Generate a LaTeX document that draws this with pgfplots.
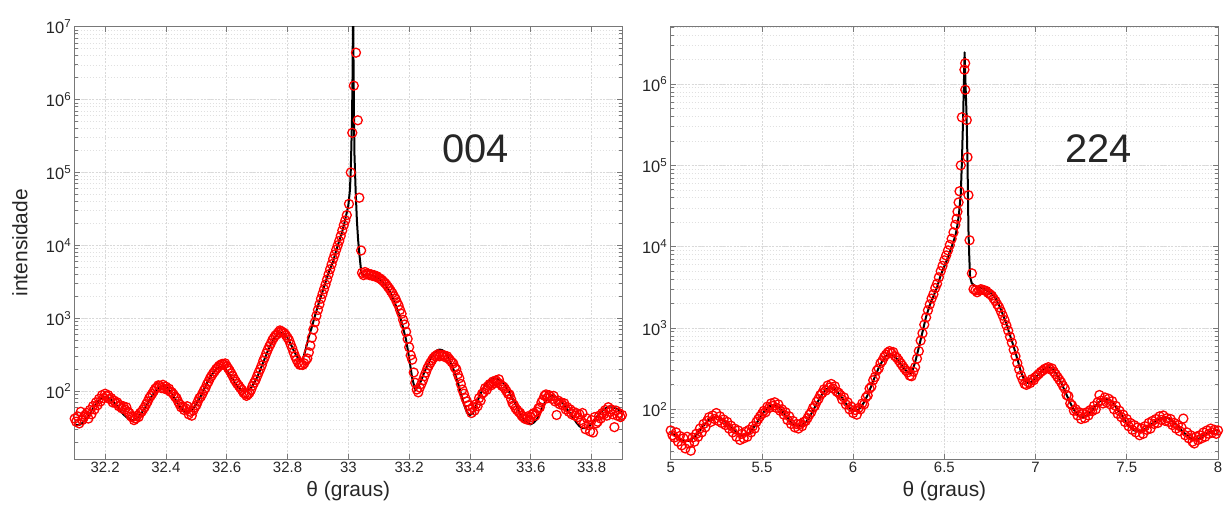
\documentclass[border=0pt]{standalone}
\usepackage{fontspec}
\setmainfont{Liberation Sans}
\usepackage{pgfplots}
\pgfplotsset{compat=1.18}
\definecolor{mtext}{RGB}{38,38,38}
\definecolor{mbox}{RGB}{120,120,120}

\pgfplotsset{
  log number format basis/.code 2 args={10\textsuperscript{\pgfmathprintnumber[assume math mode=true]{#2}}},
  every axis/.append style={
    scale only axis, width=547.3bp, height=432.3bp,
    axis line style={mbox, line width=0.8bp},
    tick style={mbox, line width=0.7bp},
    tick align=inside, major tick length=5bp, minor tick length=3bp,
    xmajorgrids, ymajorgrids, yminorgrids,
    major grid style={black!15, dash pattern=on 2bp off 1.5bp, line width=0.6bp},
    minor grid style={black!12, dash pattern=on 1.5bp off 1.5bp, line width=0.5bp},
    tick label style={font=\fontsize{15}{15}\selectfont, text=mtext},
    yticklabel style={font=\fontsize{16.5}{16.5}\selectfont},
    label style={font=\fontsize{21}{21}\selectfont, text=mtext},
    xlabel style={at={(axis description cs:0.5,-0.075)}, anchor=center},
  },
}

\begin{document}
\begin{tikzpicture}
\useasboundingbox (0,0) rectangle (1230bp,512bp);

% ---------------- 004 ----------------
\begin{axis}[ymode=log, at={(74.7bp,53bp)}, anchor=south west,
  xmin=32.1, xmax=33.9, ymin=11.7, ymax=1e7,
  xtick={32.2,32.4,32.6,32.8,33,33.2,33.4,33.6,33.8},
  xticklabel style={/pgf/number format/fixed, /pgf/number format/assume math mode=true},
  xlabel={θ (graus)}, ylabel={intensidade},
  ylabel style={at={(axis description cs:-0.1,0.5)}, anchor=center}]
\addplot[only marks, mark=o, mark size=4.5bp, draw=red, line width=1.3bp] coordinates {
(32.100,42)(32.105,38)(32.110,45)(32.115,36)(32.120,52)(32.125,40)(32.130,44)(32.135,47)(32.140,50)(32.145,42)
(32.150,55)(32.155,48)(32.160,62)(32.165,56)(32.170,70)(32.175,64)(32.180,78)(32.185,72)(32.190,88)(32.195,80)
(32.200,92)(32.205,85)(32.210,88)(32.215,78)(32.220,80)(32.225,70)(32.230,74)(32.235,68)(32.240,70)(32.245,62)
(32.250,64)(32.255,58)(32.260,62)(32.265,56)(32.270,60)(32.275,52)(32.280,50)(32.285,45)(32.290,44)(32.295,40)
(32.300,42)(32.305,46)(32.310,44)(32.315,50)(32.320,52)(32.325,56)(32.330,60)(32.335,66)(32.340,72)(32.345,80)
(32.350,86)(32.355,92)(32.360,100)(32.365,108)(32.370,112)(32.375,120)(32.380,118)(32.385,110)(32.390,122)(32.395,108)
(32.400,115)(32.405,104)(32.410,108)(32.415,98)(32.420,96)(32.425,90)(32.430,84)(32.435,80)(32.440,72)(32.445,66)
(32.450,60)(32.455,62)(32.460,55)(32.465,58)(32.470,62)(32.475,48)(32.480,52)(32.485,46)(32.490,54)(32.495,60)
(32.500,64)(32.505,72)(32.510,80)(32.515,84)(32.520,92)(32.525,102)(32.530,110)(32.535,124)(32.540,135)(32.545,150)
(32.550,162)(32.555,175)(32.560,186)(32.565,200)(32.570,210)(32.575,222)(32.580,230)(32.585,236)(32.590,232)(32.595,240)
(32.600,220)(32.605,205)(32.610,190)(32.615,175)(32.620,160)(32.625,145)(32.630,135)(32.635,125)(32.640,118)(32.645,110)
(32.650,104)(32.655,95)(32.660,92)(32.665,86)(32.670,90)(32.675,95)(32.680,104)(32.685,118)(32.690,130)(32.695,142)
(32.700,160)(32.705,180)(32.710,200)(32.715,225)(32.720,260)(32.725,290)(32.730,330)(32.735,370)(32.740,410)(32.745,450)
(32.750,500)(32.755,540)(32.760,580)(32.765,600)(32.770,640)(32.775,680)(32.780,660)(32.785,640)(32.790,620)(32.795,580)
(32.800,540)(32.805,500)(32.810,440)(32.815,390)(32.820,340)(32.825,300)(32.830,270)(32.835,245)(32.840,230)(32.845,232)
(32.850,228)(32.855,240)(32.860,265)(32.865,280)(32.870,340)(32.875,420)(32.880,540)(32.885,700)(32.890,880)(32.895,1080)
(32.900,1300)(32.905,1550)(32.910,1850)(32.915,2150)(32.920,2500)(32.925,2900)(32.930,3400)(32.935,4000)(32.940,4700)(32.945,5500)
(32.950,6500)(32.955,7500)(32.960,8700)(32.965,10000)(32.970,11500)(32.975,13500)(32.980,16000)(32.985,19000)(32.990,22000)(32.995,26000)
(33.002,37000)(33.008,100000)(33.013,350000)(33.018,1550000)(33.025,4400000)(33.031,520000)(33.036,45000)(33.042,8500)
(33.045,4200)(33.050,3900)(33.055,4300)(33.060,4000)(33.065,4100)(33.070,3900)(33.075,4000)(33.080,3800)(33.085,3900)(33.090,3700)
(33.095,3750)(33.100,3550)(33.105,3500)(33.110,3350)(33.115,3200)(33.120,3050)(33.125,2900)(33.130,2700)(33.135,2550)(33.140,2350)
(33.145,2200)(33.150,2000)(33.155,1850)(33.160,1650)(33.165,1500)(33.170,1300)(33.175,1150)(33.180,950)(33.185,820)(33.190,650)
(33.195,520)(33.200,400)(33.205,310)(33.210,270)(33.215,180)(33.220,130)(33.225,105)(33.230,96)(33.235,112)(33.240,125)
(33.245,140)(33.250,160)(33.255,180)(33.260,205)(33.265,225)(33.270,245)(33.275,265)(33.280,285)(33.285,300)(33.290,310)
(33.295,320)(33.300,300)(33.305,315)(33.310,305)(33.315,310)(33.320,290)(33.325,300)(33.330,280)(33.335,265)(33.340,250)
(33.345,240)(33.350,210)(33.355,200)(33.360,170)(33.365,150)(33.370,125)(33.375,105)(33.380,92)(33.385,80)(33.390,72)
(33.395,64)(33.400,56)(33.405,50)(33.410,60)(33.415,54)(33.420,66)(33.425,62)(33.430,80)(33.435,74)(33.440,92)
(33.445,96)(33.450,110)(33.455,104)(33.460,118)(33.465,125)(33.470,120)(33.475,135)(33.480,128)(33.485,140)(33.490,132)
(33.495,145)(33.500,125)(33.505,118)(33.510,115)(33.515,108)(33.520,100)(33.525,92)(33.530,90)(33.535,78)(33.540,68)
(33.545,64)(33.550,58)(33.555,55)(33.560,52)(33.565,50)(33.570,46)(33.575,44)(33.580,42)(33.585,41)(33.590,45)
(33.595,40)(33.600,44)(33.605,48)(33.610,50)(33.615,46)(33.620,52)(33.625,58)(33.630,60)(33.635,70)(33.640,76)
(33.645,86)(33.650,90)(33.655,80)(33.660,88)(33.665,84)(33.670,78)(33.675,86)(33.680,72)(33.685,47)(33.690,74)
(33.695,66)(33.700,70)(33.705,64)(33.710,68)(33.715,56)(33.720,60)(33.725,52)(33.730,56)(33.735,48)(33.740,52)
(33.745,46)(33.750,50)(33.755,44)(33.760,48)(33.765,40)(33.770,50)(33.775,36)(33.780,30)(33.785,42)(33.790,34)
(33.795,28)(33.800,40)(33.805,27)(33.810,44)(33.815,36)(33.820,38)(33.825,46)(33.830,42)(33.835,50)(33.840,48)
(33.845,55)(33.850,46)(33.855,60)(33.860,52)(33.865,56)(33.870,48)(33.875,32)(33.880,54)(33.885,46)(33.890,50)
(33.895,44)(33.900,47)
};
\addplot[no marks, black, line width=2bp, line join=round] coordinates {
(32.10,35)(32.11,34)(32.12,35)(32.13,38)(32.14,43)(32.15,49)(32.16,58)(32.17,66)(32.18,74)(32.19,81)
(32.20,83)(32.21,81)(32.22,76)(32.23,69)(32.24,62)(32.25,54)(32.26,48)(32.27,44)(32.28,41)(32.29,40)
(32.30,41)(32.31,44)(32.32,50)(32.33,58)(32.34,68)(32.35,81)(32.36,93)(32.37,106)(32.38,115)(32.39,117)
(32.40,114)(32.41,105)(32.42,91)(32.43,78)(32.44,66)(32.45,58)(32.46,52)(32.47,51)(32.48,53)(32.49,58)
(32.50,66)(32.51,78)(32.52,95)(32.53,116)(32.54,141)(32.55,166)(32.56,190)(32.57,208)(32.58,214)(32.59,207)
(32.60,190)(32.61,168)(32.62,145)(32.63,124)(32.64,110)(32.65,101)(32.66,98)(32.67,101)(32.68,111)(32.69,128)
(32.70,155)(32.71,195)(32.72,248)(32.73,316)(32.74,398)(32.75,479)(32.76,557)(32.77,611)(32.78,631)(32.79,603)
(32.80,537)(32.81,447)(32.82,363)(32.83,302)(32.84,269)(32.845,263)(32.85,269)(32.86,380)(32.87,560)(32.88,759)
(32.89,1072)(32.90,1479)(32.91,1995)(32.92,2692)(32.93,3631)(32.94,4786)(32.95,6026)(32.96,8511)(32.97,11480)(32.98,15490)
(32.99,22910)(33.00,35480)(33.005,56230)(33.008,107200)(33.012,524800)(33.014,2510000)(33.0155,31600000)(33.017,3160000)(33.0185,631000)(33.020,182000)
(33.024,56230)(33.028,22390)(33.032,12020)(33.036,7762)(33.043,4074)(33.05,3890)(33.06,3981)(33.07,3890)(33.08,3802)(33.09,3715)
(33.10,3548)(33.11,3236)(33.12,2884)(33.13,2512)(33.14,2188)(33.15,1738)(33.16,1349)(33.17,1047)(33.18,741)(33.19,501)
(33.20,282)(33.21,151)(33.22,102)(33.23,115)(33.24,141)(33.25,182)(33.26,224)(33.27,275)(33.28,324)(33.29,359)
(33.30,372)(33.31,363)(33.32,331)(33.33,275)(33.34,229)(33.35,178)(33.36,132)(33.37,93)(33.38,66)(33.39,51)
(33.40,47)(33.41,50)(33.42,63)(33.43,83)(33.44,102)(33.45,120)(33.46,135)(33.47,145)(33.48,148)(33.49,148)
(33.50,141)(33.51,129)(33.52,112)(33.53,95)(33.54,79)(33.55,66)(33.56,54)(33.57,45)(33.58,39)(33.59,36)
(33.60,35)(33.61,37)(33.62,41)(33.63,50)(33.64,62)(33.65,74)(33.66,83)(33.67,87)(33.68,85)(33.69,79)
(33.70,72)(33.71,65)(33.72,56)(33.73,49)(33.74,43)(33.75,37)(33.76,33)(33.77,31)(33.78,31)(33.79,32)
(33.80,36)(33.81,41)(33.82,46)(33.83,51)(33.84,56)(33.85,59)(33.86,60)(33.87,60)(33.88,58)(33.89,55)
(33.90,52)
};
\node[font=\fontsize{40}{40}\selectfont, text=mtext] at (axis cs:33.418,2.1e5) {004};
\end{axis}

% ---------------- 224 ----------------
\begin{axis}[ymode=log, at={(670.7bp,53bp)}, anchor=south west,
  xmin=5, xmax=8, ymin=24.5, ymax=5.07e6,
  xtick={5,5.5,6,6.5,7,7.5,8},
  xticklabel style={/pgf/number format/assume math mode=true},
  xlabel={θ (graus)}]
\addplot[only marks, mark=o, mark size=4.5bp, draw=red, line width=1.3bp] coordinates {
(5.00,55)(5.01,48)(5.02,45)(5.03,52)(5.04,40)(5.05,47)(5.06,36)(5.07,44)(5.08,33)(5.09,46)
(5.10,38)(5.11,31)(5.12,45)(5.13,40)(5.14,50)(5.15,46)(5.16,58)(5.17,52)(5.18,66)(5.19,60)
(5.20,72)(5.21,80)(5.22,70)(5.23,84)(5.24,76)(5.25,90)(5.26,72)(5.27,82)(5.28,68)(5.29,75)
(5.30,64)(5.31,70)(5.32,58)(5.33,63)(5.34,52)(5.35,58)(5.36,46)(5.37,55)(5.38,42)(5.39,50)
(5.40,44)(5.41,53)(5.42,46)(5.43,56)(5.44,52)(5.45,62)(5.46,58)(5.47,70)(5.48,76)(5.49,82)
(5.50,88)(5.51,96)(5.52,92)(5.53,108)(5.54,104)(5.55,118)(5.56,110)(5.57,122)(5.58,104)(5.59,115)
(5.60,96)(5.61,100)(5.62,86)(5.63,92)(5.64,74)(5.65,82)(5.66,66)(5.67,72)(5.68,60)(5.69,66)
(5.70,58)(5.71,66)(5.72,62)(5.73,70)(5.74,72)(5.75,78)(5.76,86)(5.77,92)(5.78,104)(5.79,110)
(5.80,124)(5.81,134)(5.82,150)(5.83,158)(5.84,176)(5.85,170)(5.86,196)(5.87,185)(5.88,205)(5.89,180)
(5.90,192)(5.91,165)(5.92,160)(5.93,150)(5.94,132)(5.95,140)(5.96,115)(5.97,122)(5.98,100)(5.99,108)
(6.00,90)(6.01,98)(6.02,86)(6.03,104)(6.04,100)(6.05,118)(6.06,115)(6.07,140)(6.08,148)(6.09,180)
(6.10,190)(6.11,228)(6.12,250)(6.13,300)(6.14,318)(6.15,370)(6.16,395)(6.17,440)(6.18,470)(6.19,500)
(6.20,520)(6.21,490)(6.22,505)(6.23,450)(6.24,430)(6.25,400)(6.26,370)(6.27,345)(6.28,320)(6.29,300)
(6.30,285)(6.31,260)(6.32,255)(6.33,290)(6.34,330)(6.35,420)(6.36,520)(6.37,700)(6.38,860)(6.39,1100)
(6.40,1350)(6.41,1650)(6.42,1950)(6.43,2300)(6.44,2600)(6.45,3100)(6.46,3500)(6.47,4200)(6.48,5000)(6.49,5800)
(6.50,6800)(6.51,7800)(6.52,9000)(6.53,10500)(6.54,12500)(6.55,15000)(6.56,18500)(6.567,22000)(6.572,27000)(6.578,35000)
(6.583,48000)(6.590,100000)(6.596,390000)(6.610,1500000)(6.614,1800000)(6.6145,850000)(6.623,360000)(6.627,126000)(6.632,43000)(6.638,12000)
(6.651,4700)(6.66,3000)(6.67,2900)(6.68,2750)(6.69,2900)(6.70,3000)(6.71,2950)(6.72,2900)(6.73,2850)(6.74,2700)
(6.75,2600)(6.76,2500)(6.77,2300)(6.78,2150)(6.79,1950)(6.80,1800)(6.81,1600)(6.82,1420)(6.83,1250)(6.84,1080)
(6.85,930)(6.86,780)(6.87,660)(6.88,540)(6.89,450)(6.90,370)(6.91,310)(6.92,260)(6.93,230)(6.94,205)
(6.95,200)(6.96,215)(6.97,210)(6.98,235)(6.99,228)(7.00,250)(7.01,262)(7.02,275)(7.03,290)(7.04,300)
(7.05,315)(7.06,320)(7.07,330)(7.08,310)(7.09,318)(7.10,290)(7.11,270)(7.12,250)(7.13,232)(7.14,215)
(7.15,195)(7.16,180)(7.17,150)(7.18,145)(7.19,118)(7.20,112)(7.21,96)(7.22,100)(7.23,84)(7.24,92)
(7.25,76)(7.26,88)(7.27,78)(7.28,92)(7.29,84)(7.30,98)(7.31,95)(7.32,110)(7.33,100)(7.34,122)
(7.35,150)(7.36,128)(7.37,118)(7.38,140)(7.39,122)(7.40,135)(7.41,115)(7.42,126)(7.43,100)(7.44,110)
(7.45,88)(7.46,96)(7.47,80)(7.48,86)(7.49,70)(7.50,76)(7.51,62)(7.52,68)(7.53,56)(7.54,64)
(7.55,52)(7.56,60)(7.57,48)(7.58,58)(7.59,50)(7.60,62)(7.61,56)(7.62,68)(7.63,58)(7.64,72)
(7.65,66)(7.66,76)(7.67,68)(7.68,82)(7.69,74)(7.70,84)(7.71,72)(7.72,78)(7.73,70)(7.74,76)
(7.75,64)(7.76,68)(7.77,58)(7.78,64)(7.79,54)(7.80,60)(7.81,77)(7.82,48)(7.83,52)(7.84,44)
(7.85,48)(7.86,40)(7.87,38)(7.88,46)(7.89,42)(7.90,48)(7.91,44)(7.92,52)(7.93,46)(7.94,55)
(7.95,50)(7.96,58)(7.97,52)(7.98,56)(7.99,50)(8.00,55)
};
\addplot[no marks, black, line width=2bp, line join=round] coordinates {
(5.00,52)(5.02,49)(5.04,45)(5.06,42)(5.08,41)(5.10,41)(5.12,44)(5.14,48)(5.16,55)(5.18,63)
(5.20,71)(5.22,78)(5.24,81)(5.26,80)(5.28,76)(5.30,70)(5.32,63)(5.34,57)(5.36,52)(5.38,49)
(5.40,48)(5.42,49)(5.44,54)(5.46,62)(5.48,73)(5.50,86)(5.52,99)(5.54,109)(5.56,112)(5.58,109)
(5.60,101)(5.62,90)(5.64,79)(5.66,70)(5.68,64)(5.70,62)(5.72,63)(5.74,69)(5.76,80)(5.78,96)
(5.80,117)(5.82,141)(5.84,165)(5.86,181)(5.88,186)(5.90,178)(5.92,157)(5.94,138)(5.96,118)(5.98,104)
(6.00,97)(6.02,96)(6.04,105)(6.06,122)(6.08,151)(6.10,195)(6.12,254)(6.14,323)(6.16,392)(6.18,453)
(6.20,479)(6.22,465)(6.24,415)(6.26,364)(6.28,316)(6.30,285)(6.32,276)(6.34,380)(6.36,575)(6.38,890)
(6.40,1380)(6.42,1905)(6.44,2455)(6.46,3162)(6.48,4467)(6.50,5754)(6.52,7413)(6.54,10000)(6.56,13490)(6.57,17380)
(6.58,25120)(6.59,44670)(6.596,107000)(6.603,398000)(6.607,1000000)(6.611,2450000)(6.616,1000000)(6.622,398000)(6.627,107000)(6.632,16200)
(6.637,7080)(6.641,4270)(6.65,3550)(6.66,3400)(6.68,3162)(6.70,3090)(6.72,3020)(6.74,2818)(6.76,2630)(6.78,2344)
(6.80,1905)(6.82,1479)(6.84,1122)(6.86,813)(6.88,589)(6.90,417)(6.92,288)(6.94,224)(6.96,210)(6.98,221)
(7.00,245)(7.02,276)(7.04,307)(7.06,328)(7.08,328)(7.10,305)(7.12,261)(7.14,214)(7.16,170)(7.18,134)
(7.20,108)(7.22,91)(7.24,82)(7.26,79)(7.28,83)(7.30,91)(7.32,104)(7.34,118)(7.36,130)(7.38,135)
(7.40,132)(7.42,122)(7.44,107)(7.46,93)(7.48,79)(7.50,68)(7.52,60)(7.54,55)(7.56,54)(7.58,55)
(7.60,57)(7.62,62)(7.64,67)(7.66,72)(7.68,77)(7.70,79)(7.72,79)(7.74,75)(7.76,68)(7.78,62)
(7.80,55)(7.82,50)(7.84,46)(7.86,43)(7.88,43)(7.90,44)(7.92,47)(7.94,50)(7.96,53)(7.98,55)
(8.00,56)
};
\node[font=\fontsize{40}{40}\selectfont, text=mtext] at (axis cs:7.347,1.6e5) {224};
\end{axis}
\end{tikzpicture}
\end{document}
